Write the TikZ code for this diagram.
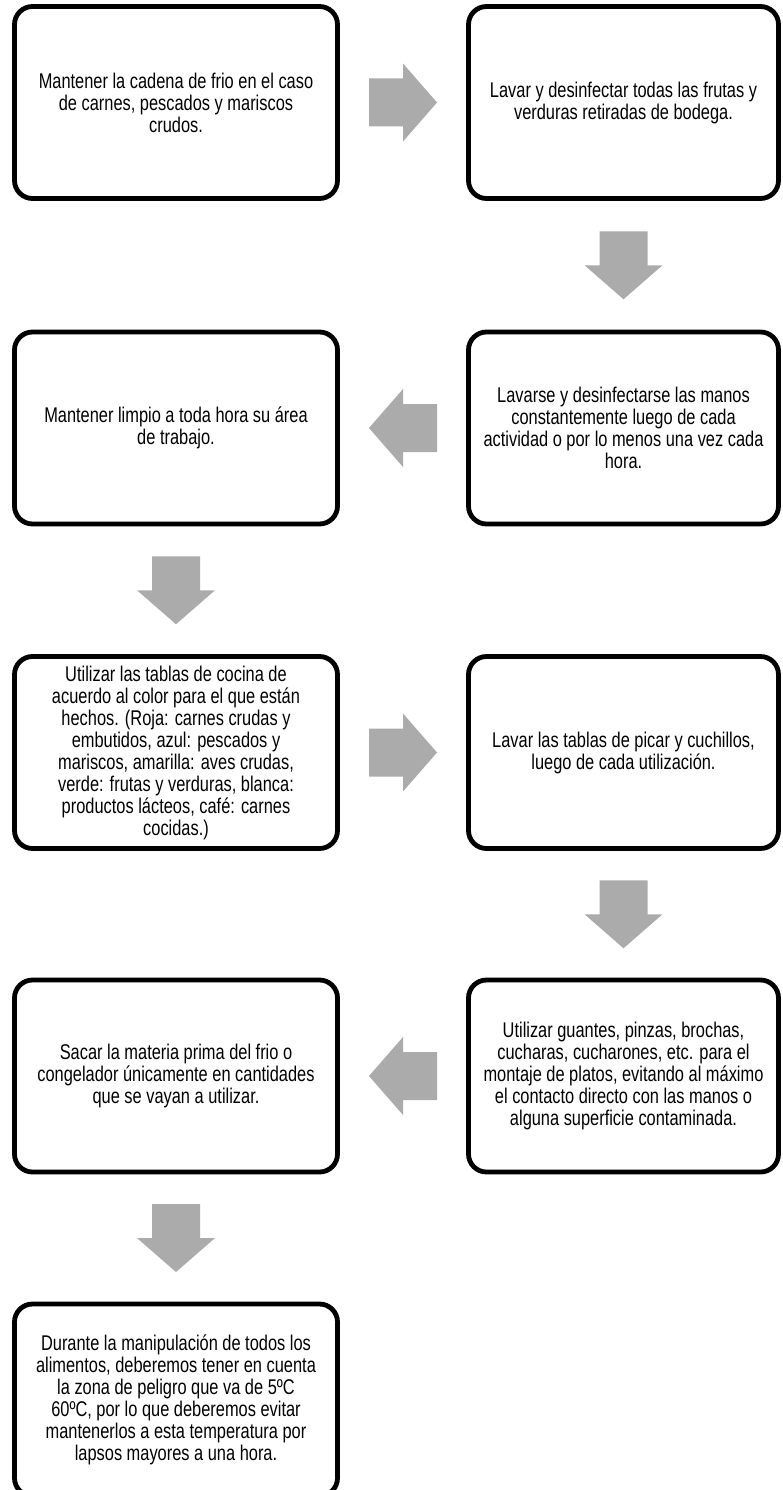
\documentclass[tikz,border=0pt]{standalone}
\usepackage{fontspec}
\setmainfont{Liberation Sans}[FakeStretch=0.77]
\usetikzlibrary{calc}
\definecolor{flechagris}{RGB}{171,171,171}
\tikzset{
	paso/.style = {
		draw,
		rectangle,
		rounded corners=18pt,
		line width=4.8pt,
		minimum height=192pt,
		inner sep=0pt,
		align=center,
		font=\fontsize{21.3}{22}\selectfont
	},
	pasoizq/.style = {
		paso,
		minimum width=323pt
	},
	pasoder/.style = {
		paso,
		minimum width=310pt
	},
	flecha/.pic = {
		\fill[flechagris] (-34,-24) -- (0,-24) -- (0,-39) -- (34,0) -- (0,39) -- (0,24) -- (-34,24) -- cycle;
	}
}

\begin{document}
\begin{tikzpicture}[x=1pt, y=1pt]
		\useasboundingbox (0,0) rectangle (782,-1490);
		
		\node[pasoizq] (frio) at (176,-102.5) {Mantener la cadena de frio en el caso\\de carnes, pescados y mariscos\\crudos.};
		\node[pasoder] (frutas) at (623.5,-102.5) {Lavar y desinfectar todas las frutas y\\verduras retiradas de bodega.};
		\node[pasoder] (manos) at (623.5,-428) {Lavarse y desinfectarse las manos\\constantemente luego de cada\\actividad o por lo menos una vez cada\\hora.};
		\node[pasoizq] (area) at (176,-428) {Mantener limpio a toda hora su área\\de trabajo.};
		\node[pasoizq] (tablas) at (176,-752.5) {Utilizar las tablas de cocina de\\acuerdo al color para el que están\\hechos. (Roja: carnes crudas y\\embutidos, azul: pescados y\\mariscos, amarilla: aves crudas,\\verde: frutas y verduras, blanca:\\productos lácteos, café: carnes\\cocidas.)};
		\node[pasoder] (cuchillos) at (623.5,-752.5) {Lavar las tablas de picar y cuchillos,\\luego de cada utilización.};
		\node[pasoder] (guantes) at (623.5,-1076) {Utilizar guantes, pinzas, brochas,\\cucharas, cucharones, etc. para el\\montaje de platos, evitando al máximo\\el contacto directo con las manos o\\alguna superficie contaminada.};
		\node[pasoizq] (congelador) at (176,-1076) {Sacar la materia prima del frio o\\congelador únicamente en cantidades\\que se vayan a utilizar.};
		\node[pasoizq] (peligro) at (176,-1400) {Durante la manipulación de todos los\\alimentos, deberemos tener en cuenta\\la zona de peligro que va de 5ºC\\60ºC, por lo que deberemos evitar\\mantenerlos a esta temperatura por\\lapsos mayores a una hora.};
		
		% flechas entre los pasos
		\pic (f1) at ($(frio.east)!0.5!(frutas.west)$) {flecha};
		\pic[rotate=270] (f2) at ($(frutas.south)!0.5!(manos.north)$) {flecha};
		\pic[rotate=180] (f3) at ($(manos.west)!0.5!(area.east)$) {flecha};
		\pic[rotate=270] (f4) at ($(area.south)!0.5!(tablas.north)$) {flecha};
		\pic (f5) at ($(tablas.east)!0.5!(cuchillos.west)$) {flecha};
		\pic[rotate=270] (f6) at ($(cuchillos.south)!0.5!(guantes.north)$) {flecha};
		\pic[rotate=180] (f7) at ($(guantes.west)!0.5!(congelador.east)$) {flecha};
		\pic[rotate=270] (f8) at ($(congelador.south)!0.5!(peligro.north)$) {flecha};
	\end{tikzpicture}
\end{document}
